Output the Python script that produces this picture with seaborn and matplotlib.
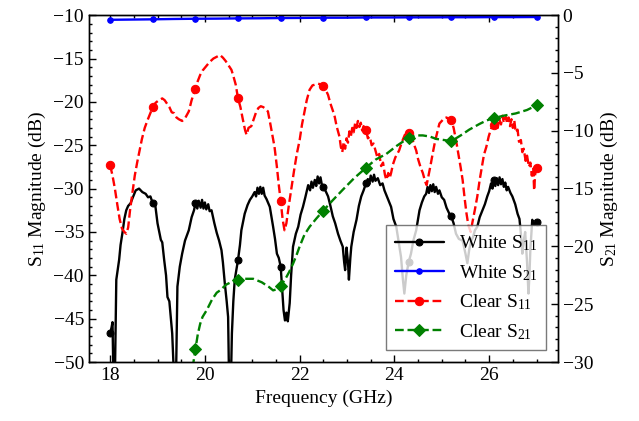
import numpy as np
import matplotlib
matplotlib.use("Agg")
import matplotlib.pyplot as plt
import seaborn as sns
from matplotlib.ticker import MultipleLocator

# ---------------- data ----------------
white_s11_f = [18.0, 18.03, 18.05, 18.07, 18.10, 18.13, 18.19, 18.22, 18.26, 18.30, 18.34, 18.38, 18.43, 18.48,
               18.54, 18.61, 18.68, 18.75, 18.80, 18.85, 18.9, 18.95, 19.0, 19.07, 19.10, 19.14, 19.18, 19.21,
               19.25, 19.28, 19.31, 19.35, 19.39, 19.42, 19.47, 19.52, 19.58, 19.66, 19.72, 19.77, 19.8, 19.84,
               19.87, 19.91, 19.94, 19.97, 20.0, 20.03, 20.07, 20.1, 20.14, 20.2, 20.25, 20.3, 20.35, 20.38,
               20.42, 20.46, 20.49, 20.51, 20.55, 20.57, 20.60, 20.63, 20.7, 20.74, 20.77, 20.84, 20.9, 20.95,
               21.0, 21.05, 21.08, 21.11, 21.14, 21.17, 21.2, 21.23, 21.26, 21.3, 21.37, 21.44, 21.48, 21.52,
               21.56, 21.6, 21.63, 21.66, 21.69, 21.72, 21.75, 21.79, 21.82, 21.86, 21.92, 21.97, 22.02, 22.07,
               22.12, 22.18, 22.22, 22.25, 22.28, 22.32, 22.35, 22.38, 22.41, 22.44, 22.47, 22.5, 22.55, 22.6,
               22.65, 22.7, 22.75, 22.81, 22.86, 22.91, 22.94, 22.96, 22.99, 23.02, 23.04, 23.07, 23.09, 23.14,
               23.2, 23.25, 23.3, 23.35, 23.4, 23.44, 23.47, 23.5, 23.54, 23.57, 23.6, 23.65, 23.7, 23.75,
               23.79, 23.85, 23.93, 23.98, 24.04, 24.1, 24.14, 24.18, 24.21, 24.25, 24.3, 24.35, 24.4, 24.46,
               24.53, 24.58, 24.63, 24.67, 24.7, 24.73, 24.76, 24.79, 24.82, 24.85, 24.88, 24.92, 24.95, 25.0,
               25.05, 25.1, 25.16, 25.2, 25.25, 25.3, 25.36, 25.44, 25.5, 25.54, 25.58, 25.62, 25.66, 25.7,
               25.75, 25.8, 25.86, 25.91, 25.96, 26.0, 26.04, 26.07, 26.1, 26.13, 26.16, 26.19, 26.22, 26.25,
               26.28, 26.31, 26.34, 26.37, 26.4, 26.45, 26.49, 26.55, 26.6, 26.64, 26.67, 26.7, 26.73, 26.76,
               26.8, 26.83, 26.85, 26.87, 26.91, 26.95, 27.0]
white_s11_db = [-46.7, -46.0, -45.4, -52.0, -52.0, -40.5, -38.2, -36.5, -35.1, -33.5, -32.5, -32.0, -31.7, -31.0,
                -30.2, -30.0, -30.4, -30.6, -31.0, -30.9, -31.7, -31.8, -34.0, -35.9, -36.2, -38.2, -40.0, -42.5,
                -43.0, -44.8, -46.7, -52.0, -52.0, -41.3, -39.0, -37.5, -36.0, -34.8, -33.3, -32.5, -31.7, -32.3,
                -31.4, -32.2, -31.3, -32.3, -31.6, -32.4, -31.8, -32.6, -32.5, -34.0, -35.1, -36.0, -37.1, -38.5,
                -40.9, -43.0, -44.8, -52.0, -52.0, -46.7, -43.0, -40.5, -38.2, -36.5, -34.8, -32.9, -31.9, -31.3,
                -30.9, -30.4, -30.9, -29.9, -30.6, -29.8, -30.6, -29.9, -30.8, -31.2, -32.1, -34.4, -35.8, -37.5,
                -38.0, -39.0, -41.5, -44.0, -45.2, -44.3, -45.3, -43.2, -40.0, -36.7, -35.2, -34.4, -33.0, -32.1,
                -31.0, -29.6, -30.2, -29.2, -29.9, -29.0, -29.7, -28.6, -29.4, -28.7, -29.6, -29.8, -30.3, -30.9,
                -32.0, -33.2, -34.0, -35.2, -36.0, -36.7, -38.5, -39.4, -36.8, -38.5, -40.5, -38.0, -36.7, -35.0,
                -33.6, -32.0, -30.9, -30.2, -29.4, -28.9, -29.5, -28.5, -29.2, -28.4, -29.1, -28.8, -29.6, -29.4,
                -30.2, -31.0, -32.1, -33.5, -34.4, -36.5, -37.9, -40.5, -42.1, -40.0, -38.5, -37.5, -36.0, -34.8,
                -32.5, -31.6, -30.9, -30.6, -29.8, -30.5, -29.6, -30.3, -29.5, -30.4, -29.8, -30.6, -30.2, -31.0,
                -31.3, -32.2, -32.9, -33.2, -34.0, -35.2, -35.8, -36.0, -37.5, -38.6, -37.0, -36.0, -35.6, -34.8,
                -34.4, -33.3, -32.5, -31.8, -30.9, -30.3, -29.4, -30.0, -29.0, -29.7, -28.8, -29.6, -28.7, -29.5,
                -28.9, -29.8, -29.3, -30.2, -29.8, -30.5, -30.9, -31.8, -32.9, -33.5, -35.2, -37.5, -36.0, -35.0,
                -38.5, -42.1, -40.0, -37.0, -33.6, -34.2, -33.9]

white_s21_f = [18.0, 18.45, 18.9, 19.35, 19.8, 20.25, 20.7, 21.15, 21.6, 22.05, 22.5, 22.95, 23.4, 23.85,
               24.3, 24.75, 25.2, 25.65, 26.1, 26.55, 27.0]
white_s21_db = [-0.40, -0.38, -0.36, -0.33, -0.31, -0.30, -0.28, -0.27, -0.25, -0.24, -0.22, -0.22, -0.20, -0.20,
                -0.19, -0.19, -0.18, -0.18, -0.17, -0.17, -0.16]

clear_s11_f = [18.0, 18.05, 18.1, 18.15, 18.2, 18.25, 18.3, 18.34, 18.38, 18.42, 18.47, 18.52, 18.57, 18.61,
               18.67, 18.73, 18.79, 18.85, 18.9, 18.96, 19.03, 19.1, 19.15, 19.2, 19.25, 19.3, 19.35, 19.4,
               19.45, 19.52, 19.58, 19.66, 19.72, 19.8, 19.85, 19.9, 19.95, 20.01, 20.1, 20.18, 20.25, 20.32,
               20.38, 20.44, 20.5, 20.56, 20.6, 20.65, 20.7, 20.75, 20.8, 20.85, 20.88, 20.92, 20.98, 21.03,
               21.08, 21.13, 21.18, 21.23, 21.28, 21.33, 21.38, 21.43, 21.47, 21.52, 21.56, 21.6, 21.64, 21.68,
               21.72, 21.77, 21.82, 21.88, 21.94, 22.0, 22.05, 22.1, 22.15, 22.21, 22.27, 22.33, 22.39, 22.45,
               22.5, 22.55, 22.6, 22.65, 22.7, 22.74, 22.78, 22.81, 22.84, 22.87, 22.9, 22.93, 22.96, 22.99,
               23.02, 23.05, 23.08, 23.11, 23.14, 23.17, 23.2, 23.23, 23.26, 23.29, 23.32, 23.35, 23.4, 23.44,
               23.48, 23.52, 23.56, 23.6, 23.64, 23.68, 23.72, 23.76, 23.8, 23.83, 23.87, 23.9, 23.93, 23.97,
               24.02, 24.06, 24.1, 24.16, 24.22, 24.3, 24.36, 24.42, 24.46, 24.5, 24.55, 24.6, 24.65, 24.68,
               24.72, 24.76, 24.81, 24.86, 24.91, 24.95, 25.0, 25.05, 25.1, 25.15, 25.2, 25.25, 25.3, 25.35,
               25.4, 25.44, 25.48, 25.52, 25.56, 25.61, 25.65, 25.7, 25.75, 25.8, 25.85, 25.89, 25.94, 25.99,
               26.04, 26.1, 26.14, 26.18, 26.21, 26.25, 26.28, 26.31, 26.35, 26.38, 26.41, 26.44, 26.47, 26.5,
               26.53, 26.56, 26.6, 26.63, 26.67, 26.7, 26.73, 26.77, 26.8, 26.84, 26.87, 26.9, 26.93, 26.95,
               26.97, 27.0]
clear_s11_db = [-27.3, -28.5, -30.0, -31.8, -33.5, -34.6, -35.0, -35.2, -34.5, -32.5, -30.5, -28.5, -27.0, -25.9,
                -24.3, -23.0, -22.1, -21.3, -20.6, -20.1, -19.8, -19.6, -19.8, -20.2, -20.6, -21.2, -21.3, -21.8,
                -22.0, -22.2, -21.9, -21.1, -19.8, -18.5, -17.6, -16.9, -16.4, -16.0, -15.4, -15.0, -14.8, -14.6,
                -14.9, -15.3, -15.8, -16.3, -17.0, -18.0, -19.6, -20.6, -22.0, -23.3, -23.8, -23.0, -22.8, -22.0,
                -21.2, -20.7, -20.5, -20.6, -20.8, -21.1, -22.5, -24.0, -25.2, -27.5, -29.6, -31.4, -33.5, -34.8,
                -34.0, -32.0, -30.2, -28.0, -26.0, -24.4, -22.6, -21.2, -19.8, -18.6, -18.1, -18.0, -17.9, -18.0,
                -18.2, -18.6, -19.2, -20.2, -21.0, -21.7, -22.8, -23.4, -24.0, -25.2, -25.8, -24.6, -25.4, -24.2,
                -24.7, -23.4, -24.0, -23.0, -23.5, -22.5, -23.0, -22.2, -22.9, -22.4, -23.3, -22.8, -23.2, -24.2,
                -24.0, -25.0, -24.8, -25.6, -26.4, -26.0, -27.4, -27.0, -28.4, -29.0, -28.2, -28.8, -28.2, -27.2,
                -26.4, -26.0, -25.6, -24.6, -23.8, -23.6, -24.0, -25.0, -25.6, -26.6, -27.5, -28.2, -29.2, -29.6,
                -28.5, -27.4, -25.9, -24.5, -23.4, -22.5, -22.2, -21.9, -21.8, -22.0, -22.1, -23.0, -24.4, -26.0,
                -27.6, -29.0, -31.0, -32.8, -34.2, -35.0, -33.8, -32.4, -30.9, -29.0, -27.4, -26.1, -25.2, -24.0,
                -23.1, -22.7, -22.3, -23.0, -21.9, -22.6, -21.6, -22.4, -21.7, -22.5, -21.8, -22.8, -22.0, -23.0,
                -22.1, -23.5, -23.2, -24.6, -24.4, -25.8, -25.4, -26.8, -26.2, -27.5, -27.0, -28.5, -27.6, -30.2,
                -28.4, -27.6]

clear_s21_f = [19.74, 19.8, 19.85, 19.9, 19.95, 20.04, 20.15, 20.25, 20.32, 20.45, 20.55, 20.7, 20.85, 21.02,
               21.2, 21.35, 21.44, 21.52, 21.6, 21.7, 21.78, 21.86, 21.93, 22.0, 22.1, 22.21, 22.35, 22.5,
               22.7, 22.91, 23.15, 23.4, 23.6, 23.83, 24.05, 24.3, 24.45, 24.6, 24.75, 24.88, 25.05, 25.2,
               25.4, 25.58, 25.8, 25.95, 26.1, 26.3, 26.56, 26.8, 27.0]
clear_s21_db = [-30.5, -28.9, -27.6, -26.7, -26.1, -25.5, -24.6, -24.0, -23.8, -23.3, -23.1, -22.9, -22.8, -22.8,
                -23.1, -23.5, -23.8, -23.7, -23.4, -22.8, -22.2, -21.5, -20.8, -20.0, -19.0, -18.3, -17.6, -16.9,
                -16.0, -15.1, -14.1, -13.2, -12.5, -12.0, -11.3, -10.6, -10.4, -10.4, -10.5, -10.7, -10.8, -10.9,
                -10.4, -9.9, -9.4, -9.1, -8.9, -8.7, -8.5, -8.2, -7.8]

marker_f = [18.0, 18.9, 19.8, 20.7, 21.6, 22.5, 23.4, 24.3, 25.2, 26.1, 27.0]

labels = ["White S$_{\\mathrm{11}}$", "White S$_{\\mathrm{21}}$",
          "Clear S$_{\\mathrm{11}}$", "Clear S$_{\\mathrm{21}}$"]


def mark_idx(freqs):
    f = np.round(np.asarray(freqs), 3)
    return [i for i, v in enumerate(f) if np.any(np.isclose(v, marker_f))]


# ---------------- style ----------------
sns.set_theme(style="ticks")
FS = 14
plt.rcParams.update({
    "font.family": ["Liberation Serif", "DejaVu Serif"],
    "mathtext.fontset": "custom",
    "mathtext.rm": "Liberation Serif",
    "mathtext.it": "Liberation Serif:italic",
    "mathtext.bf": "Liberation Serif:bold",
    "font.size": FS,
    "axes.labelsize": FS,
    "xtick.labelsize": FS,
    "ytick.labelsize": FS,
    "legend.fontsize": FS,
    "axes.linewidth": 1.0,
    "axes.edgecolor": "black",
    "xtick.color": "black",
    "ytick.color": "black",
    "text.color": "black",
    "axes.labelcolor": "black",
})

fig = plt.figure(figsize=(6.39, 4.21), dpi=100)
ax = fig.add_axes([0.139, 0.140, 0.734, 0.824])
ax2 = ax.twinx()

lw = 1.7
sns.lineplot(x=white_s11_f, y=white_s11_db, ax=ax, color="black", lw=lw, marker="o", markersize=5,
             markeredgecolor="black", markevery=mark_idx(white_s11_f), estimator=None, sort=False,
             legend=False)
sns.lineplot(x=clear_s11_f, y=clear_s11_db, ax=ax, color="red", lw=lw, linestyle="--", marker="o",
             markersize=6, markeredgecolor="red", markevery=mark_idx(clear_s11_f), estimator=None,
             sort=False, legend=False)
sns.lineplot(x=white_s21_f, y=white_s21_db, ax=ax2, color="blue", lw=lw, marker="o", markersize=4,
             markeredgecolor="blue", markevery=mark_idx(white_s21_f), estimator=None, sort=False,
             legend=False)
sns.lineplot(x=clear_s21_f, y=clear_s21_db, ax=ax2, color="green", lw=lw, linestyle="--", marker="D",
             markersize=6, markeredgecolor="green", markevery=mark_idx(clear_s21_f), estimator=None,
             sort=False, legend=False)

ax.set_xlim(17.55, 27.45)
ax.set_ylim(-50, -10)
ax2.set_ylim(-30, 0)

ax.xaxis.set_major_locator(MultipleLocator(2))
ax.xaxis.set_minor_locator(MultipleLocator(0.5))
ax.yaxis.set_major_locator(MultipleLocator(5))
ax.yaxis.set_minor_locator(MultipleLocator(1))
ax2.yaxis.set_major_locator(MultipleLocator(5))
ax2.yaxis.set_minor_locator(MultipleLocator(1))

ax.tick_params(which="both", direction="in", top=True, right=False, width=1.0)
ax.tick_params(which="major", length=5)
ax.tick_params(which="minor", length=2.5)
ax2.tick_params(which="both", direction="in", width=1.0)
ax2.tick_params(which="major", length=5)
ax2.tick_params(which="minor", length=2.5)

ax.set_xlabel("Frequency (GHz)")
ax.set_ylabel("S$_{\\mathrm{11}}$ Magnitude (dB)")
ax2.set_ylabel("S$_{\\mathrm{21}}$ Magnitude (dB)")

handles = [ax.lines[0], ax2.lines[0], ax.lines[1], ax2.lines[1]]
leg = ax2.legend(handles, labels, loc="lower right", frameon=True, fancybox=False, numpoints=1,
                 handlelength=2.5, handletextpad=0.8, labelspacing=0.5, borderpad=0.45, framealpha=0.8,
                 borderaxespad=0.6)
leg.get_frame().set_edgecolor("0.35")
leg.get_frame().set_linewidth(1.0)

fig.savefig("out.png", dpi=100)
